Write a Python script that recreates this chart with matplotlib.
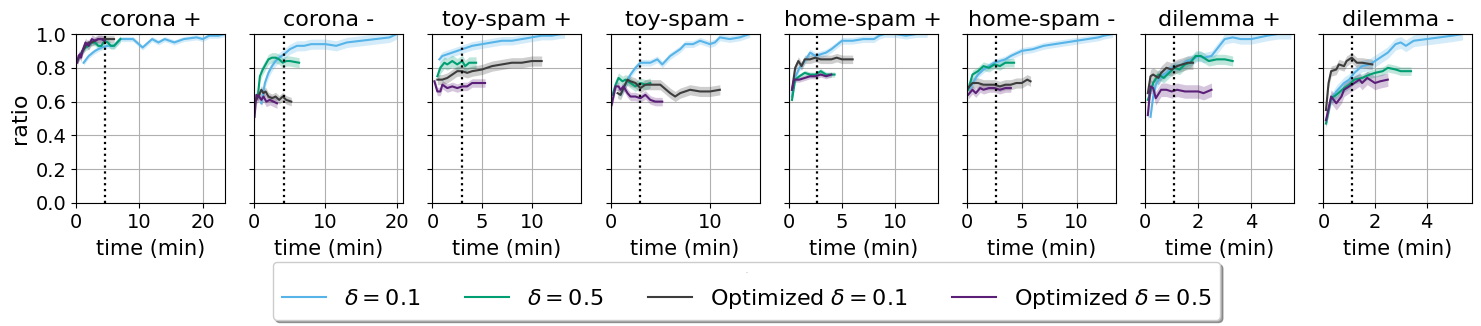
import numpy as np
import matplotlib
matplotlib.use("Agg")
import matplotlib.pyplot as plt

# panels
titles = ["corona +", "corona -", "toy-spam +", "toy-spam -",
          "home-spam +", "home-spam -", "dilemma +", "dilemma -"]
xmax = [23.5, 20.9, 15.0, 15.0, 14.0, 13.6, 5.62, 5.78]
vline = [4.63, 4.2, 2.95, 2.97, 2.63, 2.66, 1.1, 1.1]

labels = [r"$\delta = 0.1$", r"$\delta = 0.5$",
          r"Optimized $\delta = 0.1$", r"Optimized $\delta = 0.5$"]
colors = ["#56B4E9", "#009E73", "#3d3d3d", "#5b1f78"]

# each panel: 4 series (x list, y list, band half width)
corona_p = [
    ([1.2, 2, 3, 4, 5, 6, 7, 8, 9, 10.5, 12, 13, 14, 15.5, 17, 19, 20, 21, 22.5, 23.5],
     [0.83, 0.87, 0.90, 0.92, 0.93, 0.93, 0.97, 0.97, 0.97, 0.92, 0.97, 0.95, 0.97, 0.95, 0.97, 0.98, 0.97, 0.99, 0.99, 1.0], 0.015),
    ([0.3, 1, 1.5, 2, 2.5, 3, 3.5, 4, 4.5, 5, 5.5, 6, 7],
     [0.85, 0.90, 0.92, 0.93, 0.95, 0.95, 0.93, 0.93, 0.96, 0.95, 0.93, 0.93, 0.97], 0.02),
    ([0.3, 0.8, 1.5, 2, 2.5, 3, 3.5, 4, 4.5, 5, 6],
     [0.85, 0.88, 0.93, 0.95, 0.95, 0.96, 0.97, 0.97, 0.97, 0.97, 0.97], 0.02),
    ([0.2, 0.4, 0.6, 0.8, 1.0, 1.3, 1.5, 2, 2.5, 3, 3.5, 4, 4.5],
     [0.83, 0.87, 0.88, 0.86, 0.90, 0.93, 0.95, 0.93, 0.97, 0.96, 0.97, 0.97, 0.96], 0.025),
]
corona_m = [
    ([1.0, 1.5, 2.0, 2.5, 3.0, 3.5, 4.2, 5, 6, 7, 8, 9, 10, 11.5, 13, 15, 17, 19, 20],
     [0.59, 0.71, 0.77, 0.81, 0.84, 0.86, 0.88, 0.91, 0.93, 0.93, 0.94, 0.94, 0.94, 0.93, 0.95, 0.96, 0.97, 0.98, 1.0], 0.03),
    ([0.5, 0.8, 1.2, 1.6, 2.0, 2.5, 3.0, 3.5, 4.0, 4.5, 5.0, 6.3],
     [0.63, 0.75, 0.79, 0.82, 0.85, 0.86, 0.86, 0.85, 0.83, 0.84, 0.84, 0.83], 0.03),
    ([0.3, 0.7, 1.0, 1.3, 1.6, 2.0, 2.5, 3.0, 3.5, 4.0, 4.5, 5.2],
     [0.61, 0.64, 0.67, 0.65, 0.66, 0.63, 0.62, 0.63, 0.61, 0.63, 0.61, 0.60], 0.025),
    ([0.05, 0.3, 0.7, 1.0, 1.3, 1.7, 2.2, 2.7, 3.2],
     [0.51, 0.64, 0.63, 0.61, 0.63, 0.60, 0.61, 0.60, 0.59], 0.03),
]
toy_p = [
    ([0.7, 1, 1.5, 2, 3, 4, 5, 6, 7, 8, 9, 10, 11, 12, 13, 13.3],
     [0.85, 0.87, 0.88, 0.89, 0.91, 0.93, 0.94, 0.95, 0.96, 0.96, 0.97, 0.98, 0.99, 0.99, 1.0, 1.0], 0.025),
    ([0.5, 0.8, 1.2, 1.5, 2, 2.5, 3, 3.3, 3.7, 4.4],
     [0.75, 0.80, 0.83, 0.82, 0.84, 0.82, 0.84, 0.81, 0.83, 0.83], 0.035),
    ([0.5, 1, 1.5, 2, 2.5, 3, 3.5, 4, 5, 6, 7, 8, 9, 10, 11],
     [0.73, 0.73, 0.74, 0.76, 0.78, 0.78, 0.77, 0.78, 0.79, 0.81, 0.82, 0.83, 0.83, 0.84, 0.84], 0.03),
    ([0.2, 0.5, 0.8, 1, 1.5, 2, 2.5, 3, 3.5, 4, 5.3],
     [0.72, 0.66, 0.66, 0.70, 0.68, 0.69, 0.68, 0.69, 0.69, 0.71, 0.71], 0.025),
]
toy_m = [
    ([1.0, 1.5, 2, 2.5, 3, 3.5, 4, 4.7, 5.2, 6, 7, 7.5, 8.3, 9, 10, 10.5, 11, 12, 13, 14],
     [0.64, 0.70, 0.76, 0.80, 0.83, 0.83, 0.83, 0.85, 0.82, 0.87, 0.91, 0.94, 0.94, 0.96, 0.94, 0.95, 0.98, 0.97, 0.98, 1.0], 0.02),
    ([0.2, 0.5, 0.8, 1.2, 1.5, 2, 2.5, 3, 3.5, 4],
     [0.64, 0.70, 0.74, 0.72, 0.73, 0.71, 0.69, 0.71, 0.70, 0.71], 0.03),
    ([0.7, 1, 1.3, 1.7, 2, 2.5, 3, 3.5, 4, 5, 6, 6.5, 7, 8, 9, 10, 11],
     [0.65, 0.64, 0.68, 0.73, 0.72, 0.71, 0.68, 0.70, 0.70, 0.70, 0.65, 0.63, 0.65, 0.67, 0.66, 0.66, 0.67], 0.03),
    ([0.1, 0.5, 0.8, 1, 1.3, 1.7, 2, 2.5, 3, 3.5, 4, 4.5, 5.2],
     [0.58, 0.69, 0.69, 0.67, 0.69, 0.65, 0.63, 0.63, 0.62, 0.64, 0.61, 0.60, 0.60], 0.025),
]
home_p = [
    ([0.3, 0.5, 1, 1.5, 2, 2.5, 3, 3.5, 4, 5, 6, 7, 8, 8.5, 9, 10, 11, 12, 13],
     [0.63, 0.73, 0.80, 0.84, 0.89, 0.87, 0.88, 0.89, 0.91, 0.96, 0.96, 0.97, 0.97, 0.99, 1.0, 1.0, 0.99, 1.0, 1.0], 0.02),
    ([0.3, 0.6, 1, 1.5, 2, 2.5, 3, 3.5, 4.3],
     [0.61, 0.73, 0.75, 0.77, 0.76, 0.76, 0.78, 0.76, 0.76], 0.015),
    ([0.3, 0.6, 0.9, 1.2, 1.5, 2, 2.5, 3, 3.5, 4, 4.5, 5, 6],
     [0.67, 0.80, 0.84, 0.81, 0.85, 0.85, 0.86, 0.85, 0.85, 0.85, 0.86, 0.85, 0.85], 0.025),
    ([0.3, 0.5, 1, 1.5, 2, 2.5, 3, 3.5, 4],
     [0.67, 0.73, 0.73, 0.74, 0.75, 0.75, 0.76, 0.75, 0.76], 0.015),
]
home_m = [
    ([0.3, 0.7, 1, 1.5, 2, 2.5, 3, 3.5, 4, 5, 6, 7, 8, 9, 10, 11, 12, 12.5, 13.3],
     [0.68, 0.73, 0.76, 0.79, 0.81, 0.83, 0.84, 0.85, 0.87, 0.90, 0.91, 0.93, 0.94, 0.95, 0.96, 0.97, 0.98, 0.99, 1.0], 0.02),
    ([0.1, 0.5, 1, 1.5, 2, 2.5, 3, 3.5, 4.3],
     [0.67, 0.76, 0.78, 0.81, 0.80, 0.82, 0.81, 0.83, 0.83], 0.025),
    ([0.1, 0.5, 1, 1.5, 2, 2.5, 3, 3.5, 4, 4.5, 5, 5.5, 5.8],
     [0.68, 0.71, 0.71, 0.70, 0.70, 0.70, 0.69, 0.70, 0.70, 0.71, 0.71, 0.73, 0.72], 0.03),
    ([0.1, 0.5, 0.8, 1.2, 1.5, 2, 2.5, 3, 3.5, 4],
     [0.64, 0.67, 0.65, 0.68, 0.67, 0.68, 0.68, 0.67, 0.68, 0.68], 0.025),
]
dil_p = [
    ([0.2, 0.3, 0.4, 0.6, 0.8, 1.0, 1.2, 1.4, 1.6, 1.8, 2.0, 2.2, 2.5, 2.7, 3.0, 3.3, 3.6, 4.0, 4.3, 4.6, 5.0, 5.5],
     [0.51, 0.63, 0.70, 0.75, 0.77, 0.80, 0.81, 0.82, 0.84, 0.85, 0.87, 0.86, 0.87, 0.91, 0.97, 0.98, 0.97, 0.97, 0.98, 0.99, 1.0, 1.0], 0.03),
    ([0.1, 0.3, 0.5, 0.7, 0.9, 1.1, 1.3, 1.5, 1.7, 1.9, 2.1, 2.4, 2.7, 3.0, 3.3],
     [0.61, 0.71, 0.76, 0.74, 0.77, 0.80, 0.79, 0.82, 0.83, 0.87, 0.87, 0.84, 0.85, 0.85, 0.84], 0.03),
    ([0.1, 0.2, 0.3, 0.5, 0.6, 0.8, 1.0, 1.2, 1.4, 1.6, 1.8],
     [0.65, 0.75, 0.76, 0.74, 0.77, 0.80, 0.79, 0.81, 0.82, 0.83, 0.83], 0.04),
    ([0.1, 0.2, 0.3, 0.4, 0.6, 0.8, 1.0, 1.2, 1.5, 1.8, 2.0, 2.2, 2.5],
     [0.52, 0.69, 0.68, 0.62, 0.67, 0.67, 0.66, 0.67, 0.66, 0.66, 0.66, 0.65, 0.67], 0.04),
]
dil_m = [
    ([0.3, 0.5, 0.8, 1.0, 1.2, 1.5, 1.8, 2.0, 2.2, 2.5, 2.8, 3.0, 3.2, 3.5, 4.0, 4.5, 5.0, 5.4],
     [0.61, 0.66, 0.71, 0.73, 0.77, 0.81, 0.82, 0.84, 0.86, 0.89, 0.94, 0.95, 0.93, 0.96, 0.97, 0.98, 0.99, 1.0], 0.035),
    ([0.1, 0.3, 0.5, 0.8, 1.0, 1.2, 1.5, 1.8, 2.0, 2.3, 2.5, 2.8, 3.0, 3.4],
     [0.47, 0.62, 0.64, 0.68, 0.70, 0.73, 0.74, 0.76, 0.77, 0.78, 0.80, 0.79, 0.78, 0.78], 0.025),
    ([0.1, 0.2, 0.3, 0.5, 0.6, 0.8, 0.9, 1.1, 1.3, 1.5, 1.9],
     [0.55, 0.71, 0.78, 0.79, 0.82, 0.81, 0.84, 0.86, 0.83, 0.83, 0.82], 0.03),
    ([0.1, 0.3, 0.5, 0.7, 0.8, 1.0, 1.2, 1.4, 1.5, 1.7, 2.0, 2.2, 2.5],
     [0.49, 0.63, 0.59, 0.63, 0.67, 0.69, 0.71, 0.73, 0.71, 0.74, 0.71, 0.72, 0.73], 0.04),
]
panels = [corona_p, corona_m, toy_p, toy_m, home_p, home_m, dil_p, dil_m]
xticks = [[0, 10, 20], [0, 10, 20], [0, 5, 10], [0, 10], [0, 5, 10],
          [0, 5, 10], [0, 2, 4], [0, 2, 4]]

W, H = 1481, 326
fig = plt.figure(figsize=(W / 100, H / 100), dpi=100)

handles = None
for i in range(8):
    left = 76 + i * 178.2
    ax = fig.add_axes([left / W, (H - 203) / H, 149 / W, 169 / H])
    hs = []
    for (xs, ys, err), c, lab in zip(panels[i], colors, labels):
        xs = np.array(xs)
        ys = np.array(ys)
        ax.fill_between(xs, np.clip(ys - err, 0, 1.02), np.clip(ys + err, 0, 1.02),
                        color=c, alpha=0.25, lw=0)
        h, = ax.plot(xs, ys, color=c, lw=1.5, label=lab)
        hs.append(h)
    handles = hs
    ax.axvline(vline[i], color="black", ls=":", lw=1.6)
    ax.set_xlim(0, xmax[i])
    ax.set_ylim(0, 1)
    ax.set_xticks(xticks[i])
    ax.set_yticks([0, 0.2, 0.4, 0.6, 0.8, 1.0])
    ax.grid(True, color="#b0b0b0", lw=0.8)
    ax.set_axisbelow(True)
    ax.tick_params(labelsize=14)
    ax.set_title(titles[i], fontsize=16)
    ax.set_xlabel("time (min)", fontsize=15, labelpad=5)
    if i == 0:
        ax.set_ylabel("ratio", fontsize=16)
    else:
        ax.set_yticklabels([])

leg = fig.legend(handles, labels, loc="center", bbox_to_anchor=(0.504, 0.108), ncol=4,
                 fontsize=16, fancybox=True, shadow=True, columnspacing=2.0,
                 handlelength=2.0, title="-", title_fontsize=4)
leg.get_title().set_color("#999999")

fig.savefig("out.png", dpi=100)
